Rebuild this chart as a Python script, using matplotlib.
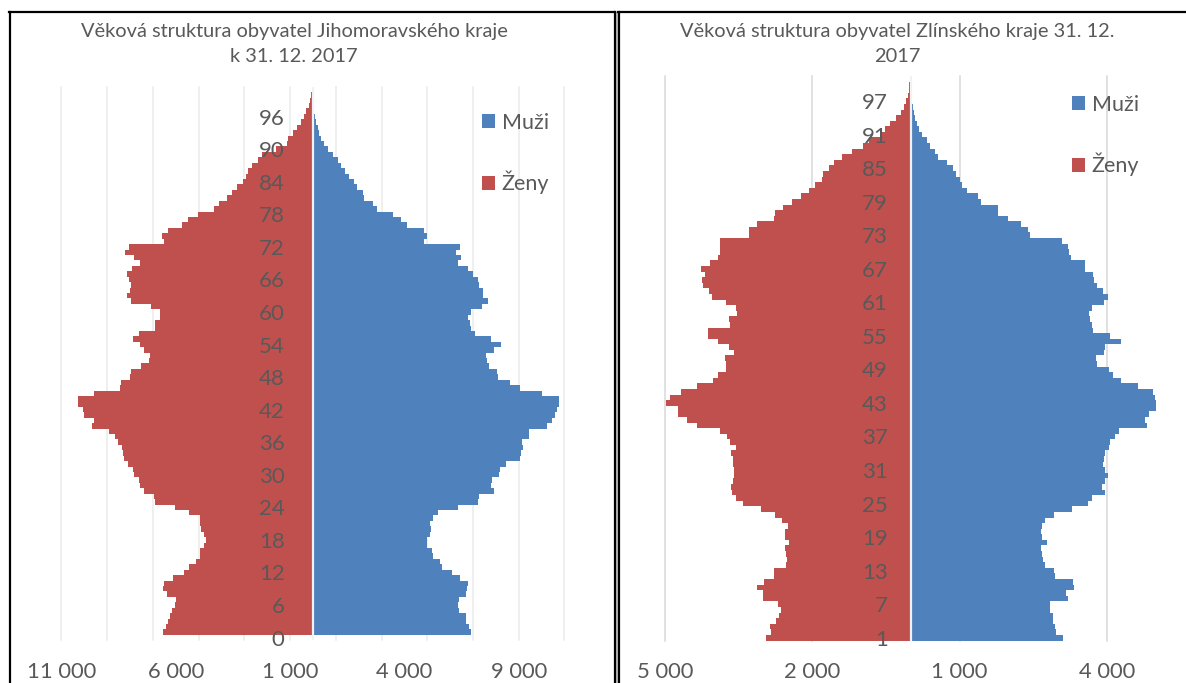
import numpy as np
import matplotlib.pyplot as plt
from matplotlib.lines import Line2D
from matplotlib.patches import Rectangle

plt.rcParams['font.family'] = ['Lato', 'DejaVu Sans']

# Jihomoravsky kraj, ages 0..100 (drawn at positions 1..101, position 0 stays empty)
jm_zeny = [6540, 6430, 6340, 6240, 6160, 6040, 6010, 6390, 6540, 6500,
           6120, 5630, 5440, 5100, 4950, 4920, 4770, 4680, 4770, 4880,
           4920, 4950, 5410, 6040, 6920, 6950, 7370, 7550, 7600, 7830,
           7860, 8100, 8280, 8310, 8360, 8550, 8640, 8920, 9680, 9600,
           10020, 10070, 10280, 10280, 9600, 8430, 8400, 8010, 7950, 7530,
           7180, 7130, 7400, 7570, 7860, 7600, 6890, 6920, 6690, 6690,
           7100, 7950, 8130, 8010, 7950, 8060, 8130, 7900, 7560, 7830,
           8210, 8060, 6500, 6590, 6340, 5740, 5480, 5030, 4350, 4120,
           3740, 3560, 3320, 3060, 2910, 2860, 2650, 2410, 2230, 1620,
           1140, 1090, 890, 710, 530, 380, 290, 170, 110, 80, 45]
jm_muzi = [6900, 6830, 6680, 6680, 6400, 6330, 6370, 6710, 6740, 6780,
           6430, 6100, 5650, 5570, 5240, 5210, 5010, 5000, 5120, 5160,
           5120, 5270, 5470, 6330, 7240, 7280, 7920, 7800, 7840, 8150,
           8190, 8450, 9050, 9100, 9180, 9160, 9430, 9460, 10220, 10460,
           10570, 10670, 10770, 10770, 10010, 9050, 8600, 8100, 8040, 7690,
           7620, 7590, 7920, 8220, 7770, 7090, 6930, 6860, 6780, 6930,
           7390, 7650, 7460, 7460, 7280, 7240, 6980, 6780, 6330, 6480,
           6250, 6440, 4860, 4970, 4860, 4130, 3830, 3500, 2800, 2620,
           2240, 2200, 1940, 1790, 1560, 1410, 1230, 1080, 880, 650,
           470, 350, 270, 200, 140, 90, 60, 45, 30, 15, 15]
jm_age_labels = [0, 6, 12, 18, 24, 30, 36, 42, 48, 54, 60, 66, 72, 78, 84, 90, 96]
jm_x_labels = [-11000, -6000, -1000, 4000, 9000]
jm_grid = [-11000, -9000, -7000, -5000, -3000, -1000, 1000, 3000, 5000, 7000, 9000, 11000]

# Zlinsky kraj, ages 0..100 (Excel numbered the categories 1..101)
zl_zeny = [2950, 2840, 2870, 2730, 2680, 2630, 2700, 3010, 3010, 3120,
           2980, 2790, 2790, 2540, 2510, 2540, 2560, 2470, 2560, 2560,
           2490, 2610, 2750, 3040, 3420, 3560, 3630, 3660, 3610, 3600,
           3590, 3610, 3610, 3660, 3560, 3680, 3740, 3890, 4350, 4550,
           4740, 4730, 4970, 4900, 4670, 4340, 4020, 3920, 3750, 3750,
           3780, 3590, 3700, 3920, 4130, 4130, 3680, 3700, 3540, 3560,
           3750, 4040, 4110, 4220, 4250, 4180, 4270, 4090, 3920, 3890,
           3890, 3890, 3280, 3280, 3120, 2790, 2750, 2600, 2420, 2230,
           2060, 1940, 1800, 1780, 1660, 1560, 1390, 1200, 960, 850,
           610, 510, 420, 290, 200, 130, 90, 60, 40, 30, 20]
zl_muzi = [3110, 2970, 2950, 2900, 2900, 2850, 2850, 3210, 3160, 3320,
           3300, 2940, 2920, 2730, 2700, 2680, 2660, 2780, 2670, 2660,
           2670, 2730, 2920, 3290, 3620, 3690, 3960, 3900, 3960, 4020,
           3970, 3920, 3950, 3970, 4040, 4060, 4160, 4250, 4820, 4780,
           4850, 5050, 5060, 4980, 4940, 4640, 4280, 4130, 4040, 3800,
           3780, 3940, 3960, 4280, 4060, 3710, 3700, 3660, 3640, 3690,
           3940, 4020, 3920, 3800, 3740, 3710, 3550, 3550, 3270, 3230,
           3200, 3090, 2440, 2400, 2260, 1980, 1790, 1790, 1440, 1370,
           1160, 1050, 1010, 920, 870, 750, 560, 490, 400, 330,
           240, 170, 130, 100, 80, 50, 35, 20, 14, 7, 7]
zl_age_labels = [1, 7, 13, 19, 25, 31, 37, 43, 49, 55, 61, 67, 73, 79, 85, 91, 97]
zl_x_labels = [-5000, -2000, 1000, 4000]

BLUE = '#4F81BD'
RED = '#C0504D'
TXT = '#595959'
W, H = 1186, 683


def fmt(v):
    return f"{abs(v):,}".replace(",", " ")


def pyramid(ax, zeny, muzi, ages, xlabels, grid, grid_color, xlim, ylim, axis_x):
    pos = np.arange(1, len(zeny) + 1)
    zeny = np.array(zeny)
    muzi = np.array(muzi)
    for g in grid:
        ax.axvline(g, color=grid_color, lw=1.1, zorder=0.5, clip_on=False)
    b_m = ax.barh(pos, muzi, height=1.0, color=BLUE, linewidth=0, zorder=1, label='Muži')
    b_z = ax.barh(pos, -zeny, height=1.0, color=RED, linewidth=0, zorder=1, label='Ženy')
    ax.axvline(0, ymax=(len(zeny) + 0.5 - ylim[0]) / (ylim[1] - ylim[0]),
               color='#F2F2F2', lw=1.6, zorder=1.5)
    ax.set_xlim(*xlim)
    ax.set_ylim(*ylim)
    ax.set_xticks(xlabels)
    ax.set_xticklabels([fmt(v) for v in xlabels])
    ax.set_yticks(ages)
    ax.set_yticklabels([str(a) for a in ages])
    ax.spines['left'].set_position(('data', axis_x))
    for s in ax.spines.values():
        s.set_visible(False)
    ax.set_axisbelow(False)
    ax.tick_params(axis='x', length=0, pad=15.5, labelsize=15.8, labelcolor=TXT)
    ax.tick_params(axis='y', length=0, pad=0, labelsize=16, labelcolor=TXT)
    return b_m, b_z


fig = plt.figure(figsize=(W / 100, H / 100), dpi=100)

ax1 = fig.add_axes([61.5 / W, 1 - 640.3 / H, 502.9 / W, 553.6 / H])
h1 = pyramid(ax1, jm_zeny, jm_muzi, jm_age_labels, jm_x_labels, jm_grid, '#EBEBEB',
             (-11000, 11000), (-0.5, 101.5), -1240)

ax2 = fig.add_axes([665 / W, 1 - 640.5 / H, 491 / W, 564.5 / H])
h2 = pyramid(ax2, zl_zeny, zl_muzi, zl_age_labels, zl_x_labels, zl_x_labels, '#D9D9D9',
             (-5000, 5000), (0.5, 101.5), -465)

titles = [(294, "Věková struktura obyvatel Jihomoravského kraje", "k 31. 12. 2017"),
          (897, "Věková struktura obyvatel Zlínského kraje 31. 12.", "2017")]
for cx, line1, line2 in titles:
    fig.text(cx / W, 1 - 31 / H, line1, ha='center', va='center', fontsize=14.4, color=TXT)
    fig.text(cx / W, 1 - 57 / H, line2, ha='center', va='center', fontsize=14.4, color=TXT)

for ax, h, (lx, ly) in [(ax1, h1, (482, 113)), (ax2, h2, (1072, 95))]:
    ax.legend(handles=list(h), loc='upper left', bbox_to_anchor=(lx / W, 1 - ly / H),
              bbox_transform=fig.transFigure, frameon=False, borderpad=0, borderaxespad=0,
              handlelength=0.62, handleheight=0.62, handletextpad=0.3, labelspacing=1.75,
              fontsize=15.5, labelcolor=TXT)

# panel frames
def fline(x0, y0, x1, y1, **kw):
    fig.add_artist(Line2D([x0 / W, x1 / W], [1 - y0 / H, 1 - y1 / H],
                          transform=fig.transFigure, **kw))

fig.add_artist(Rectangle((615.5 / W, 0), 2.5 / W, 1 - 12 / H, transform=fig.transFigure,
                         color='#BFBFBF', lw=0))
fline(9, 12, 615, 12, color='black', lw=1.6)
fline(9.5, 12, 9.5, H, color='black', lw=1.6)
fline(614.5, 12, 614.5, H, color='black', lw=1.6)
fline(618.8, 12, 618.8, H, color='black', lw=1.6)
fline(618, 12, W, 12, color='black', lw=1.6)

fig.savefig("out.png", dpi=100)
